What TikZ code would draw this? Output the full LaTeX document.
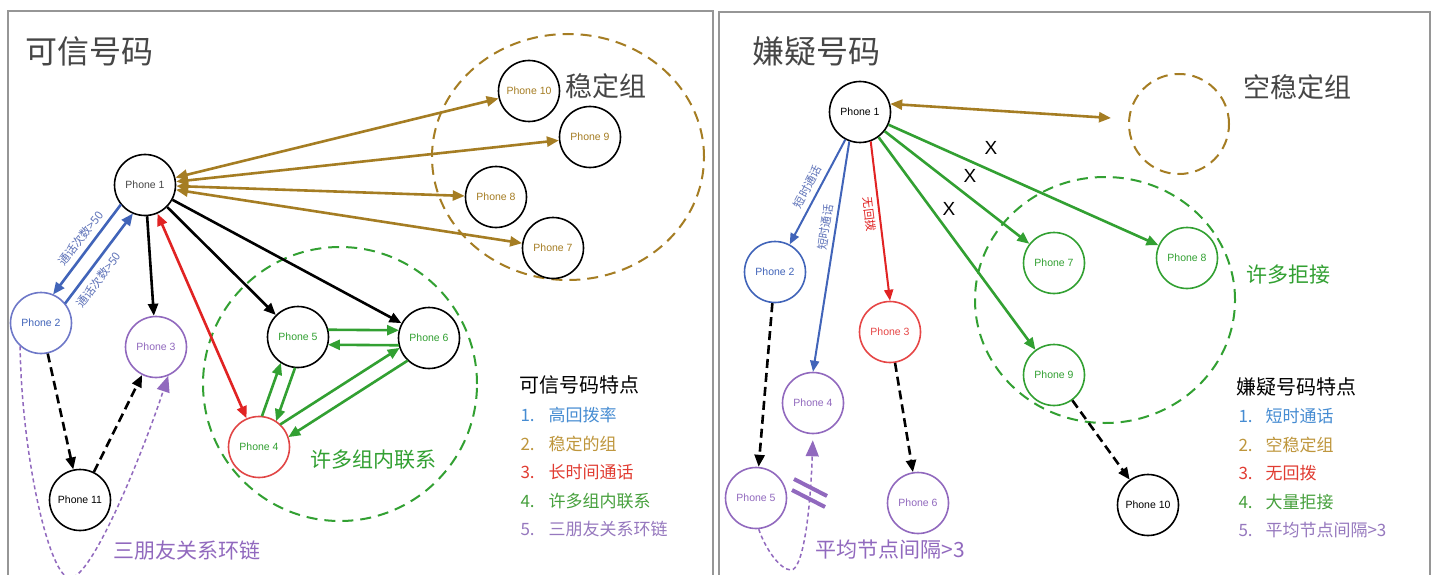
\documentclass[tikz,border=0pt]{standalone}
\usepackage{fontspec}
\setmainfont{Liberation Sans}
\newfontfamily\cjk{Noto Sans CJK SC}
\usetikzlibrary{arrows.meta,calc,shapes.geometric}
\definecolor{goldc}{RGB}{165,125,35}
\definecolor{greenc}{RGB}{50,160,50}
\definecolor{bluec}{RGB}{65,100,185}
\definecolor{redc}{RGB}{225,35,35}
\definecolor{purc}{RGB}{145,105,190}
\definecolor{lblue}{RGB}{70,140,210}
\definecolor{lgold}{RGB}{190,150,60}
\definecolor{lred}{RGB}{225,60,50}
\definecolor{lgreen}{RGB}{70,160,60}
\definecolor{lpur}{RGB}{150,120,190}
\definecolor{titc}{RGB}{70,70,70}
\definecolor{framec}{RGB}{150,150,150}
\definecolor{lblc}{RGB}{95,115,185}
\newcommand\rline[4]{\draw[#4] ($(#1)!#3!-90:(#2)$) -- ($(#2)!#3!90:(#1)$);}
\newcommand\lline[4]{\draw[#4] ($(#1)!#3!90:(#2)$) -- ($(#2)!#3!-90:(#1)$);}
\tikzset{
  ph/.style={circle, draw, line width=1.6pt, minimum size=61pt, inner sep=0pt,
    font=\fontsize{10.5}{11}\selectfont},
  tipL/.style={-{Triangle[length=12pt,width=10pt]}},
  arr/.style={line width=2.6pt, tipL},
  barr/.style={line width=2.6pt, {Triangle[length=12pt,width=10pt]}-{Triangle[length=12pt,width=10pt]}},
  pairA/.style={arr, shorten <=30pt, shorten >=30pt},
  dsh/.style={arr, dash pattern=on 9pt off 5pt},
  thinarr/.style={line width=2pt, -{Triangle[length=11pt,width=9pt]}},
  grp/.style={draw, line width=2pt, dash pattern=on 11pt off 7pt, inner sep=0pt},
  loop/.style={purc, line width=1.5pt, dash pattern=on 4pt off 3pt, -{Triangle[length=16pt,width=13pt]}},
  lbl/.style={font=\cjk\fontsize{11.5}{11.5}\selectfont, text=lblc, inner sep=1pt},
  lgh/.style={anchor=west, font=\cjk\fontsize{20}{20}\selectfont, text=black},
  lgi/.style={anchor=west, font=\cjk\fontsize{17}{17}\selectfont},
  big/.style={font=\cjk\fontsize{27}{27}\selectfont, text=titc},
  mid/.style={font=\cjk\fontsize{21}{21}\selectfont},
  ttl/.style={anchor=west, font=\cjk\fontsize{32}{32}\selectfont, text=titc},
}
\begin{document}
\begin{tikzpicture}[x=1pt,y=-1pt]
\useasboundingbox (0,0) rectangle (1434,575);
\fill[white] (0,0) rectangle (1434,575);
\clip (0,0) rectangle (1434,575);
% frames
\draw[framec, line width=1.5pt] (8,600) -- (8,11) -- (713,11) -- (713,600);
\draw[framec, line width=1.5pt] (719,600) -- (719,12) -- (1430,12) -- (1430,600);

% ================= LEFT PANEL =================
\node[ttl] (tL) at (22,51) {可信号码};
\node[grp, ellipse, draw=goldc, minimum width=272pt, minimum height=246pt] (stab) at (568,157) {};
\node[grp, circle, draw=greenc, minimum size=274pt] (ggrp) at (340,384) {};
\node[big] (stabt) at (606,86) {稳定组};

\node[ph, text=titc] (L1) at (145,185) {Phone 1};
\node[ph, draw={rgb,255:red,110;green,120;blue,200}, text=bluec] (L2) at (41,323) {Phone 2};
\node[ph, draw=purc, text=purc] (L3) at (156,347) {Phone 3};
\node[ph, draw={rgb,255:red,225;green,70;blue,70}, text=greenc] (L4) at (259,447) {Phone 4};
\node[ph, text=greenc] (L5) at (298,337) {Phone 5};
\node[ph, text=greenc] (L6) at (429,338) {Phone 6};
\node[ph, text=goldc] (L7) at (553,248) {Phone 7};
\node[ph, text=goldc] (L8) at (496,197) {Phone 8};
\node[ph, text=goldc] (L9) at (590,137) {Phone 9};
\node[ph, text=goldc] (L10) at (529,91) {Phone 10};
\node[ph] (L11) at (80,500) {Phone 11};

% gold stable group links
\foreach \t in {L7,L8,L9,L10} \draw[barr, goldc] (L1) -- (\t);
% black
\draw[arr] (L1) -- (L3);
\draw[arr] (L1) -- (L5);
\draw[arr] (L1) -- (L6);
% red
\draw[barr, redc] (L1) -- (L4);
% blue pair with labels
\draw[pairA, bluec] ($(L1)!7.5pt!-90:(L2)$) -- node[pos=0.47, sloped, above=4pt, lbl] {通话次数>50} ($(L2)!7.5pt!90:(L1)$);
\draw[pairA, bluec] ($(L2)!7.5pt!-90:(L1)$) -- node[pos=0.4, sloped, below=5pt, lbl] {通话次数>50} ($(L1)!7.5pt!90:(L2)$);
% green pairs
\lline{L5}{L6}{7.5pt}{pairA, greenc}
\lline{L6}{L5}{7.5pt}{pairA, greenc}
\lline{L4}{L5}{7.5pt}{pairA, greenc}
\lline{L5}{L4}{7.5pt}{pairA, greenc}
\lline{L4}{L6}{7.5pt}{pairA, greenc}
\lline{L6}{L4}{7.5pt}{pairA, greenc}
% dashed chain
\draw[dsh] (L2) -- (L11);
\draw[dsh] (L11) -- (L3);
\draw[loop] (L2.228) .. controls (22,460) and (50,578) .. (70,578)
  .. controls (92,578) and (142,455) .. (L3.293);

\node[mid, text=greenc] (gt) at (373,460) {许多组内联系};
\node[mid, text=purc] (ct) at (187,551) {三朋友关系环链};

% legend left
\node[lgh] (lgL) at (516,385) {可信号码特点};
\node[lgi, text=lblue] (lgL1) at (517,415) {\makebox[28pt][l]{1.}高回拨率};
\node[lgi, text=lgold] (lgL2) at (517,444) {\makebox[28pt][l]{2.}稳定的组};
\node[lgi, text=lred] (lgL3) at (517,472) {\makebox[28pt][l]{3.}长时间通话};
\node[lgi, text=lgreen] (lgL4) at (517,501) {\makebox[28pt][l]{4.}许多组内联系};
\node[lgi, text=lpur] (lgL5) at (517,529) {\makebox[28pt][l]{5.}三朋友关系环链};

% ================= RIGHT PANEL =================
\node[ttl] (tR) at (749,51) {嫌疑号码};
\node[grp, circle, draw=goldc, minimum width=100pt, minimum height=96pt] (RE) at (1179,124) {};
\node[grp, ellipse, draw=greenc, minimum width=260pt, minimum height=246pt] (rgrp) at (1105,300) {};
\node[big] (ret) at (1297,87) {空稳定组};
\node[mid, text=greenc] (rjt) at (1288,275) {许多拒接};

\node[ph] (R1) at (860,112) {Phone 1};
\node[ph, draw=bluec, text=bluec] (R2) at (775,272) {Phone 2};
\node[ph, draw={rgb,255:red,230;green,70;blue,70}, text={rgb,255:red,230;green,70;blue,70}] (R3) at (890,332) {Phone 3};
\node[ph, draw=purc, text=purc] (R4) at (813,403) {Phone 4};
\node[ph, draw=purc, text=purc] (R5) at (756,498) {Phone 5};
\node[ph, draw=purc, text=purc] (R6) at (918,503) {Phone 6};
\node[ph, draw=greenc, text=greenc] (R7) at (1054,263) {Phone 7};
\node[ph, draw=greenc, text=greenc] (R8) at (1187,258) {Phone 8};
\node[ph, draw=greenc, text=greenc] (R9) at (1054,375) {Phone 9};
\node[ph] (R10) at (1148,505) {Phone 10};

\coordinate (REin) at (1111,118);
\draw[barr, goldc] (R1.15) -- (REin);
\draw[arr, greenc] (R1) -- (R7);
\draw[arr, greenc] (R1) -- (R8);
\draw[arr, greenc] (R1) -- (R9);
\node[font=\fontsize{19}{19}\selectfont] (x1) at (991,148) {X};
\node[font=\fontsize{19}{19}\selectfont] (x2) at (970,176) {X};
\node[font=\fontsize{19}{19}\selectfont] (x3) at (949,209) {X};

\draw[thinarr, bluec] (R1) -- node[midway, sloped, above=4pt, lbl] {短时通话} (R2);
\draw[thinarr, bluec] (R1.250) -- node[pos=0.38, sloped, above=3pt, lbl] {短时通话} (R4.north);
\draw[thinarr, redc] (R1.290) -- node[pos=0.45, sloped, below=3pt, lbl, text=redc] {无回拨} (R3.north);

\draw[dsh] (R2) -- (R5);
\draw[dsh] (R3) -- (R6);
\draw[dsh] (R9) -- (R10);
\draw[loop, shorten >=6pt] (R5.275) .. controls (765,548) and (780,570) .. (791,570)
  .. controls (802,570) and (810,520) .. (R4.south);
\draw[purc, line width=4pt] (794,479) -- (827,496);
\draw[purc, line width=4pt] (792,490) -- (825,507);

\node[mid, text=purc] (avt) at (890,550) {平均节点间隔>3};

% legend right
\node[lgh] (lgR) at (1233,387) {嫌疑号码特点};
\node[lgi, text=lblue] (lgR1) at (1235,416) {\makebox[27pt][l]{1.}短时通话};
\node[lgi, text=lgold] (lgR2) at (1235,445) {\makebox[27pt][l]{2.}空稳定组};
\node[lgi, text=lred] (lgR3) at (1235,473) {\makebox[27pt][l]{3.}无回拨};
\node[lgi, text=lgreen] (lgR4) at (1235,502) {\makebox[27pt][l]{4.}大量拒接};
\node[lgi, text=lpur] (lgR5) at (1235,530) {\makebox[27pt][l]{5.}平均节点间隔>3};
\end{tikzpicture}
\end{document}
